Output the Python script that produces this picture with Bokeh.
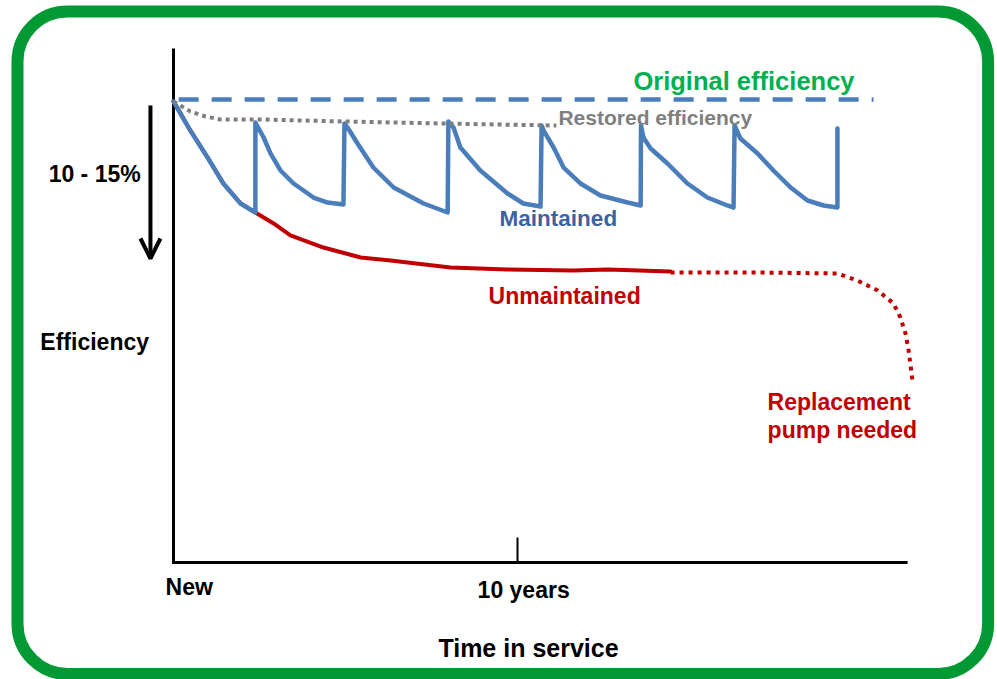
from bokeh.plotting import figure
from bokeh.models import Range1d, Arrow, OpenHead, BoxAnnotation
from bokeh.core.properties import value
from bokeh.embed import file_html
from bokeh.resources import INLINE

# ---------------- data (years in service, efficiency %) ----------------
original_t = [0.15, 20.35]
original_eff = [100.0, 100.0]

restored_t = [0.0, 0.49, 0.93, 1.37, 2.53, 4.94, 7.76, 11.13]
restored_eff = [99.57, 97.41, 96.33, 95.68, 95.68, 95.25, 94.82, 94.38]

maint_t = [0.0, 0.49, 0.99, 1.45, 1.95, 2.38,
           2.38, 2.62, 2.82, 3.11, 3.49, 4.07, 4.48, 4.94,
           4.97, 5.06, 5.35, 5.81, 6.40, 7.27, 7.97,
           7.99, 8.14, 8.34, 8.92, 9.71, 10.17, 10.67,
           10.70, 10.76, 11.05, 11.34, 11.83, 12.41, 13.20, 13.58,
           13.59, 13.66, 13.87, 14.36, 14.94, 15.52, 16.10, 16.28,
           16.31, 16.48, 16.98, 17.44, 17.94, 18.43, 18.90, 19.30,
           19.30]
maint_eff = [99.57, 93.30, 87.47, 81.86, 77.54, 75.59,
             95.03, 91.79, 88.34, 84.67, 81.86, 78.83, 77.75, 77.32,
             94.82, 93.95, 90.50, 85.31, 80.99, 77.54, 75.59,
             95.25, 93.95, 89.63, 84.67, 79.70, 77.54, 76.89,
             94.38, 93.30, 89.63, 85.31, 81.86, 79.27, 77.75, 77.11,
             94.38, 91.79, 89.42, 86.18, 81.86, 78.83, 77.11, 76.67,
             94.38, 91.58, 88.34, 84.67, 80.99, 78.19, 77.11, 76.67,
             93.74]

unm_t = [0.0, 0.49, 0.99, 1.45, 1.95, 2.38, 2.91, 3.40, 4.36, 5.44,
         6.31, 8.05, 9.71, 11.63, 12.62, 14.45]
unm_eff = [99.57, 93.30, 87.47, 81.86, 77.54, 75.59, 73.22, 70.63, 68.03,
           65.87, 65.23, 63.71, 63.28, 63.07, 63.28, 62.85]

proj_t = [14.45, 17.06, 19.30, 19.88, 20.47, 20.93, 21.13, 21.28, 21.37,
          21.42, 21.48]
proj_eff = [62.63, 62.63, 62.42, 60.91, 58.75, 55.94, 52.92, 49.46, 45.79,
            42.98, 39.31]

tick_years = [10]
tick_labels = ["New", "10 years"]

# ---------------- figure ----------------
p = figure(width=997, height=679,
           x_range=Range1d(-5.0291, 23.9535), y_range=Range1d(-25.270, 121.382),
           output_backend="svg", toolbar_location=None,
           x_axis_location=None, y_axis_location=None,
           min_border=0, outline_line_color=None)
p.background_fill_color = "white"
p.border_fill_color = "white"
p.grid.visible = False
p.xgrid.grid_line_color = None
p.ygrid.grid_line_color = None

# green rounded frame
p.add_layout(BoxAnnotation(left=-4.535, right=23.68, top=119.01, bottom=-24.08,
                           fill_alpha=0, line_color="#009933", line_width=12,
                           line_alpha=1, border_radius=50, level="underlay"))

# axes
p.line([0, 0, 21.34], [111.0, 0, 0], line_color="black", line_width=3,
       line_join="miter")
p.segment(x0=tick_years, y0=[0] * len(tick_years), x1=tick_years,
          y1=[5.4] * len(tick_years), line_color="black", line_width=2)

# curves
p.line(unm_t, unm_eff, line_color="#C00000", line_width=4,
       line_join="round", line_cap="round")
p.line(proj_t, proj_eff, line_color="#C00000", line_width=4,
       line_dash="4 5", line_join="round")
p.line(maint_t, maint_eff, line_color="#4A7EBB", line_width=4.5,
       line_join="round", line_cap="round")
p.line(restored_t, restored_eff, line_color="#7F7F7F", line_width=4,
       line_dash="4 4", line_join="round")
p.line(original_t, original_eff, line_color="#4A7EBB", line_width=4.5,
       line_dash="20 13")

# 10-15% arrow
p.add_layout(Arrow(end=OpenHead(size=20, line_width=4, line_color="black"),
                   x_start=-0.67, y_start=98.70, x_end=-0.67, y_end=65.66,
                   line_width=4, line_color="black"))

font = value("Liberation Sans")


def label(x, y, txt, size, color):
    p.text(x=[x], y=[y], text=[txt], text_font=font, text_font_style="bold",
           text_font_size=size, text_color=color, text_align="left",
           text_baseline="alphabetic")


label(13.37, 104.04, "Original efficiency", "25.5px", "#00B050")
label(11.19, 96.11, "Restored efficiency", "21px", "#7F7F7F")
label(9.48, 74.19, "Maintained", "22.5px", "#3A64A0")
label(9.16, 57.60, "Unmaintained", "23px", "#C00000")
label(17.27, 34.71, "Replacement", "23px", "#C00000")
label(17.27, 28.66, "pump needed", "23px", "#C00000")
label(-3.63, 83.95, "10 - 15%", "23px", "black")
label(-3.87, 47.67, "Efficiency", "23px", "black")
label(-0.23, -5.25, tick_labels[0], "23px", "black")
label(8.84, -5.90, tick_labels[1], "23px", "black")
label(7.70, -18.47, "Time in service", "25px", "black")

open("out.html", "w").write(file_html(p, INLINE))
